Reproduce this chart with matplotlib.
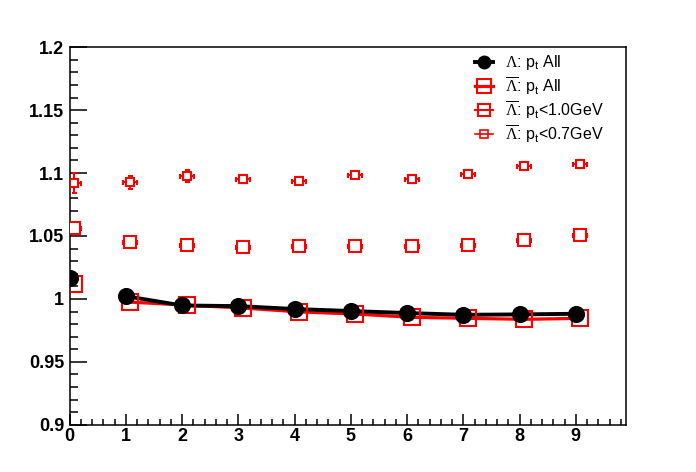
import numpy as np
import matplotlib
matplotlib.use("Agg")
import matplotlib.pyplot as plt
from matplotlib.lines import Line2D
from matplotlib.ticker import MultipleLocator, FuncFormatter

# 字体 (ROOT 风格: Helvetica + Symbol)
plt.rcParams['font.family'] = ['Liberation Sans', 'DejaVu Sans']
plt.rcParams['mathtext.fontset'] = 'custom'
plt.rcParams['mathtext.rm'] = 'Liberation Serif'
plt.rcParams['mathtext.sf'] = 'Liberation Sans'
plt.rcParams['mathtext.it'] = 'Liberation Sans:italic'

# 数据 (从图上读出来的)
x_lam = [0, 1, 2, 3, 4, 5, 6, 7, 8, 9]
x_bar = [0.08, 1.08, 2.08, 3.08, 4.08, 5.08, 6.08, 7.08, 8.08, 9.08]
lam_all = [1.0169, 1.0022, 0.9948, 0.9943, 0.9920, 0.9904, 0.9888, 0.9874, 0.9877, 0.9882]
bar_all = [1.0119, 0.9975, 0.9950, 0.9928, 0.9897, 0.9880, 0.9854, 0.9846, 0.9838, 0.9846]
bar_pt10 = [1.0562, 1.0453, 1.0429, 1.0413, 1.0421, 1.0423, 1.0422, 1.0430, 1.0469, 1.0508]
bar_pt07 = [1.0922, 1.0927, 1.0977, 1.0954, 1.0940, 1.0986, 1.0954, 1.0994, 1.1057, 1.1073]
err_pt10 = [0.003, 0.002, 0.002, 0.002, 0.002, 0.002, 0.002, 0.002, 0.002, 0.002]
err_pt07 = [0.008, 0.005, 0.0045, 0.003, 0.003, 0.003, 0.003, 0.003, 0.003, 0.003]
xerr_bin = [0.125] * 10

labels = [r'$\Lambda$: p$_{\mathsf{t}}$ All',
          r'$\overline{\Lambda}$: p$_{\mathsf{t}}$ All',
          r'$\overline{\Lambda}$: p$_{\mathsf{t}}$<1.0GeV',
          r'$\overline{\Lambda}$: p$_{\mathsf{t}}$<0.7GeV']

fig = plt.figure(figsize=(6.96, 4.72), dpi=100)
ax = fig.add_axes([0.1, 0.1, 0.8, 0.8])

# 连线 (x=0 那个点不连)
ax.plot(x_bar[1:], bar_all[1:], color='red', lw=2.3, zorder=2)
ax.plot(x_lam[1:], lam_all[1:], color='black', lw=2.8, zorder=3)

# 红色方块
ax.plot(x_bar, bar_all, 's', ms=11.7, mfc='none', mec='red', mew=1.5, zorder=4)
ax.errorbar(x_bar, bar_pt10, xerr=xerr_bin, yerr=err_pt10, fmt='s', ms=8.9,
            mfc='white', mec='red', mew=1.5, ecolor='red', elinewidth=1.5,
            capsize=1.8, capthick=1.5, zorder=4)
ax.errorbar(x_bar, bar_pt07, xerr=xerr_bin, yerr=err_pt07, fmt='s', ms=6.0,
            mfc='white', mec='red', mew=1.5, ecolor='red', elinewidth=1.5,
            capsize=1.8, capthick=1.5, zorder=4)

# 黑色圆点
ax.plot(x_lam, lam_all, 'o', ms=11.3, color='black', zorder=5)

# 坐标轴
ax.set_xlim(0, 9.9)
ax.set_ylim(0.9, 1.2)
ax.xaxis.set_major_locator(MultipleLocator(1))
ax.xaxis.set_minor_locator(MultipleLocator(0.2))
ax.yaxis.set_major_locator(MultipleLocator(0.05))
ax.yaxis.set_minor_locator(MultipleLocator(0.01))
ax.yaxis.set_major_formatter(FuncFormatter(lambda v, p: '%g' % round(v, 3)))
ax.tick_params(which='both', direction='in', top=False, right=False, width=1.1,
               labelsize=13)
ax.yaxis.set_tick_params(which='major', length=12, pad=4)
ax.yaxis.set_tick_params(which='minor', length=6)
ax.xaxis.set_tick_params(which='major', length=8.1, pad=2)
ax.xaxis.set_tick_params(which='minor', length=4.1)
for lab in ax.get_xticklabels() + ax.get_yticklabels():
    lab.set_fontweight('bold')
for s in ax.spines.values():
    s.set_linewidth(1.1)

# 图例
handles = [
    Line2D([], [], color='black', lw=2.8, marker='o', ms=9),
    Line2D([], [], color='red', lw=2.3, marker='s', ms=10.5, mfc='none', mew=1.5),
    Line2D([], [], color='red', lw=1.5, marker='s', ms=8.5, mfc='none', mew=1.5),
    Line2D([], [], color='red', lw=1.2, marker='s', ms=5.8, mfc='none', mew=1.2),
]
ax.legend(handles, labels, loc='upper left', bbox_to_anchor=(0.682, 0.887),
          bbox_transform=fig.transFigure, frameon=False, fontsize=11.5,
          handlelength=1.15, handletextpad=0.75, labelspacing=0.14,
          borderpad=0, borderaxespad=0)

fig.savefig('out.png', dpi=100)
